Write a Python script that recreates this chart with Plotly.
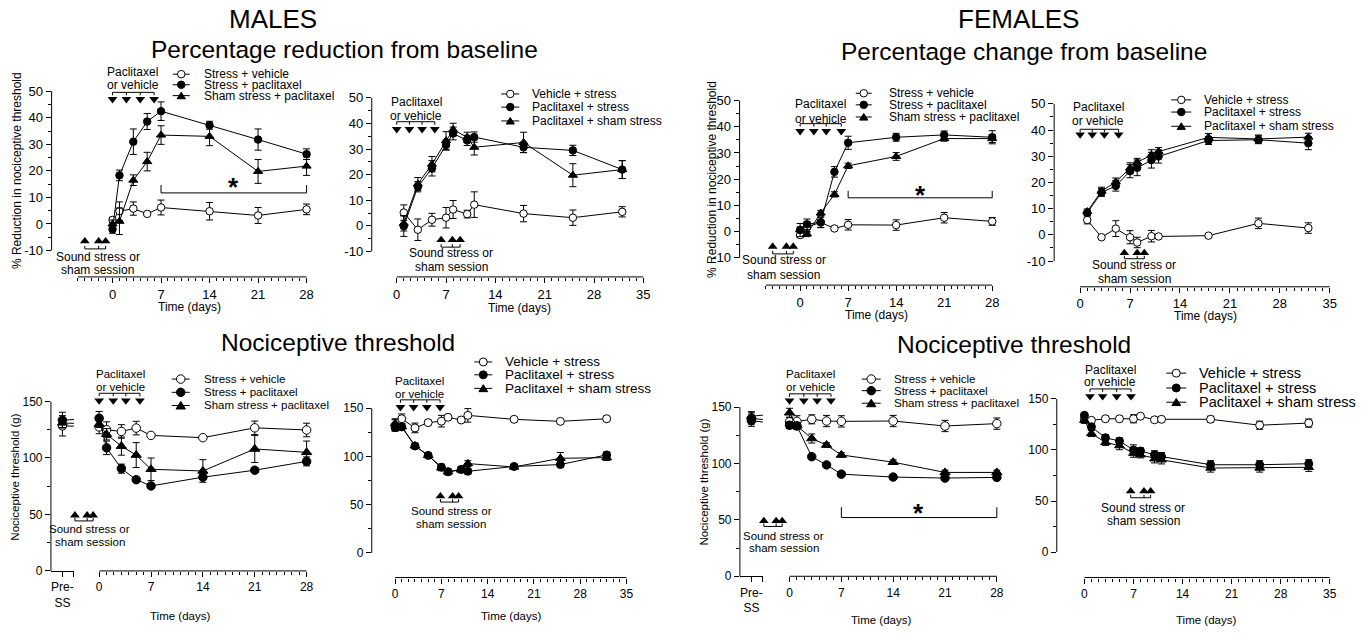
import plotly.graph_objects as go

W, H = 1368, 635
FONT = "Liberation Sans, Arial, Helvetica, sans-serif"
INK = "#000000"

LABELS_A = ["Stress + vehicle", "Stress + paclitaxel", "Sham stress + paclitaxel"]
LABELS_B = ["Vehicle + stress", "Paclitaxel + stress", "Paclitaxel + sham stress"]

# ================= DATA =================
# --- Males: % reduction from baseline (stress before drug)
M_RED_DAYS = [0, 1, 3, 5, 7, 14, 21, 28]
M_RED_SV = [1.5, 4.8, 5.8, 3.8, 6.2, 4.8, 3.2, 5.5]
M_RED_SV_ERR = [1.0, 3.5, 2.5, 0.6, 2.8, 3.3, 3.0, 2.0]
M_RED_SP = [-2.0, 18.3, 31.0, 38.6, 42.5, 37.2, 31.8, 26.3]
M_RED_SP_ERR = [1.5, 2.0, 4.8, 3.0, 3.5, 1.5, 4.0, 2.0]
M_RED_SHP = [0.0, 1.0, 16.5, 23.5, 33.5, 33.0, 19.8, 21.8]
M_RED_SHP_ERR = [1.5, 5.0, 2.0, 3.5, 3.5, 3.5, 4.5, 3.5]

# --- Males: % reduction from baseline (drug before stress)
M_RED2_DAYS = [1, 3, 5, 7, 8, 10, 11, 18, 25, 32]
M_RED2_VS = [5.2, -1.5, 2.4, 3.2, 6.4, 4.6, 8.3, 4.8, 3.2, 5.5]
M_RED2_VS_ERR = [3.0, 4.2, 2.5, 4.0, 3.5, 1.5, 5.0, 3.2, 3.0, 2.0]
M_RED2_PS = [-0.1, 15.3, 22.5, 31.6, 36.1, 33.4, 34.7, 30.7, 29.5, 22.0]
M_RED2_PS_ERR = [4.0, 2.0, 3.0, 2.0, 2.5, 2.0, 2.0, 2.0, 2.0, 3.5]
M_RED2_PSH = [1.0, 16.4, 24.1, 33.3, 37.6, 34.6, 30.7, 32.6, 19.8, 22.0]
M_RED2_PSH_ERR = [3.0, 2.5, 3.0, 3.5, 2.5, 2.0, 3.0, 4.0, 4.5, 3.5]

# --- Females: % change from baseline (stress before drug)
F_RED_DAYS = [0, 1, 3, 5, 7, 14, 21, 28]
F_RED_SV = [-1.3, 1.8, 3.5, 1.2, 2.6, 2.5, 5.3, 3.9]
F_RED_SV_ERR = [1.0, 2.0, 2.0, 0.5, 2.0, 2.0, 2.0, 1.5]
F_RED_SP = [0.6, 2.8, 3.6, 22.8, 33.9, 36.0, 36.9, 36.0]
F_RED_SP_ERR = [2.5, 2.0, 2.0, 2.0, 2.5, 1.5, 1.5, 2.5]
F_RED_SHP = [0.8, -0.9, 7.1, 14.2, 25.1, 28.7, 35.5, 35.5]
F_RED_SHP_ERR = [1.0, 1.0, 1.0, 1.0, 1.0, 1.5, 1.0, 1.5]

# --- Females: % change from baseline (drug before stress)
F_RED2_DAYS = [1, 3, 5, 7, 8, 10, 11, 18, 25, 32]
F_RED2_VS = [5.7, -0.9, 2.4, -0.9, -2.9, -0.5, -0.6, -0.3, 4.4, 2.6]
F_RED2_VS_ERR = [1.5, 0.5, 3.0, 2.5, 2.0, 2.2, 0.5, 0.5, 2.0, 2.0]
F_RED2_PS = [8.4, 16.2, 18.7, 24.3, 25.6, 28.5, 29.9, 36.0, 36.3, 35.0]
F_RED2_PS_ERR = [1.0, 1.5, 2.0, 2.5, 3.0, 3.0, 2.5, 1.5, 1.5, 2.5]
F_RED2_PSH = [8.9, 16.7, 20.2, 25.5, 27.7, 30.5, 31.8, 37.2, 36.6, 37.3]
F_RED2_PSH_ERR = [1.0, 1.5, 1.5, 2.0, 1.5, 2.0, 1.5, 1.5, 1.5, 1.5]

# --- Males: nociceptive threshold (g) (stress before drug)
M_THR_PRE = [128.5, 133.5, 131.0]
M_THR_PRE_ERR = [9.0, 7.0, 4.0]
M_THR_DAYS = [0, 1, 3, 5, 7, 14, 21, 28]
M_THR_SV = [127.5, 125.0, 123.5, 126.5, 120.0, 118.0, 126.7, 124.8]
M_THR_SV_ERR = [6.0, 7.0, 6.0, 6.0, 1.0, 1.0, 6.0, 6.0]
M_THR_SP = [135.2, 109.0, 90.6, 80.8, 75.3, 83.0, 89.2, 97.0]
M_THR_SP_ERR = [6.0, 6.0, 4.0, 2.0, 2.0, 2.0, 2.0, 4.0]
M_THR_SHP = [130.0, 121.0, 110.5, 102.6, 90.0, 88.5, 108.0, 105.0]
M_THR_SHP_ERR = [3.0, 5.0, 8.0, 11.0, 10.0, 10.0, 12.0, 10.0]

# --- Males: nociceptive threshold (g) (drug before stress)
M_THR2_DAYS = [0, 1, 3, 5, 7, 8, 10, 11, 18, 25, 32]
M_THR2_VS = [132.0, 139.0, 129.5, 135.0, 136.5, 140.5, 137.7, 142.5, 138.4, 136.3, 139.0]
M_THR2_VS_ERR = [6.0, 5.0, 5.0, 2.0, 6.0, 2.0, 2.0, 7.0, 2.0, 2.0, 2.0]
M_THR2_PS = [130.0, 130.5, 110.7, 101.0, 88.8, 84.0, 86.5, 84.5, 89.5, 91.5, 101.5]
M_THR2_PS_ERR = [3.0, 3.0, 2.0, 2.0, 3.0, 3.0, 3.0, 3.0, 2.0, 2.0, 3.0]
M_THR2_PSH = [134.0, 131.0, 111.0, 101.0, 88.0, 84.0, 86.0, 92.5, 89.0, 98.0, 98.7]
M_THR2_PSH_ERR = [5.0, 3.0, 2.0, 2.0, 3.0, 3.0, 3.0, 3.0, 2.0, 6.0, 3.0]

# --- Females: nociceptive threshold (g) (stress before drug)
F_THR_PRE = [140.0, 138.0, 142.0]
F_THR_PRE_ERR = [5.0, 5.0, 4.0]
F_THR_DAYS = [0, 1, 3, 5, 7, 14, 21, 28]
F_THR_SV = [137.0, 137.4, 139.2, 137.7, 137.4, 137.7, 133.3, 135.4]
F_THR_SV_ERR = [4.0, 5.0, 4.0, 5.0, 5.0, 5.0, 5.0, 5.0]
F_THR_SP = [134.0, 133.3, 106.1, 98.8, 90.6, 88.0, 87.1, 87.7]
F_THR_SP_ERR = [3.0, 3.0, 2.0, 2.0, 2.0, 2.0, 2.0, 2.0]
F_THR_SHP = [145.0, 133.5, 122.2, 116.4, 107.6, 101.2, 92.1, 92.1]
F_THR_SHP_ERR = [4.0, 3.0, 4.0, 2.0, 2.0, 2.0, 2.0, 2.0]

# --- Females: nociceptive threshold (g) (drug before stress)
F_THR2_DAYS = [0, 1, 3, 5, 7, 8, 10, 11, 18, 25, 32]
F_THR2_VS = [130.0, 129.0, 130.5, 130.5, 130.5, 133.0, 129.5, 130.0, 130.0, 124.2, 126.3]
F_THR2_VS_ERR = [3.0, 2.0, 2.0, 2.0, 4.0, 2.0, 2.0, 2.0, 3.0, 4.0, 4.0]
F_THR2_PS = [133.9, 122.6, 111.9, 108.7, 100.0, 99.0, 95.2, 93.5, 85.5, 85.5, 86.5]
F_THR2_PS_ERR = [2.0, 3.0, 3.0, 3.0, 5.0, 3.0, 4.0, 4.0, 4.0, 4.0, 4.0]
F_THR2_PSH = [129.0, 116.1, 107.4, 104.2, 96.8, 95.2, 91.3, 90.3, 82.3, 82.3, 83.0]
F_THR2_PSH_ERR = [3.0, 3.0, 3.0, 4.0, 4.0, 3.0, 4.0, 4.0, 4.0, 4.0, 4.0]

# Treatment / stress session marker days (annotation marks)
PAC_DAYS = {1: [0, 2, 4, 6], 2: [0, 1.8, 3.6, 5.4], 3: [0, 2, 3.8, 6], 4: [0, 1.7, 3.4, 5.4],
            5: [0, 1.9, 3.6, 5.5], 6: [0.8, 2.8, 4.8, 6.8], 7: [0, 1.93, 3.73, 5.6], 8: [0.8, 2.6, 4.6, 6.65]}
SOUND_DAYS = {1: [-4, -2, -1], 2: [6.3, 7.9, 9.0], 3: [-4, -2, -1], 4: [6.2, 8, 9],
              5: [-3.27, -1.62, -0.81], 6: [6.85, 8.7, 9.6], 7: [-3.47, -1.81, -1.0], 8: [6.6, 8.5, 9.45]}

# ================= LAYOUT GEOMETRY (pixels) =================
GEOM = {
    1: dict(ax=51.7, x0=112.7, ppd=6.94, xpy=280.0, yv=50, ypy=92.3, ppy=2.683, top=62, right=313),
    2: dict(ax=372.3, x0=397.3, ppd=7.057, xpy=280.0, yv=50, ypy=99.0, ppy=2.588, top=62, right=650),
    3: dict(ax=740.7, x0=801.3, ppd=6.87, xpy=288.3, yv=50, ypy=101.7, ppy=2.65, top=62, right=1000),
    4: dict(ax=1055.7, x0=1081.7, ppd=7.143, xpy=290.0, yv=50, ypy=105.0, ppy=2.65, top=62, right=1338),
    5: dict(ax=51.0, x0=99.3, ppd=7.42, xpy=577.3, yv=150, ypy=406.0, ppy=1.142, top=365, right=313),
    6: dict(ax=372.3, x0=395.7, ppd=6.62, xpy=584.0, yv=150, ypy=412.7, ppy=0.975, top=365, right=633),
    7: dict(ax=741.0, x0=790.7, ppd=7.414, xpy=582.7, yv=150, ypy=411.7, ppy=1.14, top=365, right=1004),
    8: dict(ax=1058.3, x0=1086.0, ppd=7.02, xpy=584.0, yv=150, ypy=403.3, ppy=1.033, top=365, right=1338),
}

fig = go.Figure()
shapes, annotations = [], []
layout = {}


def py_of(g, v):
    return g['ypy'] - (v - g['yv']) * g['ppy']


def px_of(g, d):
    return g['x0'] + d * g['ppd']


def val_of(g, py):
    return g['yv'] + (g['ypy'] - py) / g['ppy']


def day_of(g, px):
    return (px - g['x0']) / g['ppd']


def text(xp, yp, s, size=12, xanchor='center', angle=0, bold=False):
    annotations.append(dict(
        x=xp / W, y=1 - yp / H, xref='paper', yref='paper', text=(f"<b>{s}</b>" if bold else s),
        showarrow=False, xanchor=xanchor, yanchor='middle', textangle=angle,
        font=dict(family=FONT, size=size, color=INK)))


def hline_px(x0, x1, y, w=1):
    shapes.append(dict(type='line', xref='paper', yref='paper', x0=x0 / W, x1=x1 / W,
                       y0=1 - y / H, y1=1 - y / H, line=dict(color=INK, width=w)))


def vline_px(x, y0, y1, w=1):
    shapes.append(dict(type='line', xref='paper', yref='paper', x0=x / W, x1=x / W,
                       y0=1 - y0 / H, y1=1 - y1 / H, line=dict(color=INK, width=w)))


STYLES = [dict(symbol='circle', color='white'),
          dict(symbol='circle', color=INK),
          dict(symbol='triangle-up', color=INK)]


def legend(labels, rows, key, tx, size, msize):
    for lab, y, st in zip(labels, rows, STYLES):
        hline_px(key[0], key[1], y)
        cx, cy = (key[0] + key[1]) / 2, y
        r = msize / 2
        base = dict(xref='paper', yref='paper', xsizemode='pixel', ysizemode='pixel',
                    xanchor=cx / W, yanchor=1 - cy / H, line=dict(color=INK, width=1))
        if st['symbol'] == 'circle':
            shapes.append(dict(type='circle', x0=-r, x1=r, y0=-r, y1=r, fillcolor=st['color'], **base))
        else:
            t = r * 1.1
            shapes.append(dict(type='path', path=f"M{-t},{-t*0.75} L{t},{-t*0.75} L0,{t*0.85} Z",
                               fillcolor=INK, **base))
        text(tx, y, lab, size=size, xanchor='left')


def add_series(n, days, vals, errs, st, msize, xa=None):
    xa = xa or f'x{n}'
    fig.add_trace(go.Scatter(
        x=days, y=vals, mode='lines+markers', xaxis=xa, yaxis=f'y{n}',
        line=dict(color=INK, width=1),
        marker=dict(symbol=st['symbol'], size=msize + (0.5 if st['symbol'] != 'circle' else 0),
                    color=st['color'], line=dict(color=INK, width=1)),
        error_y=dict(type='data', array=errs, color=INK, thickness=1, width=3.5),
        cliponaxis=False, showlegend=False, hoverinfo='skip'))


def bracket(n, xs, yline, tick_px, direction, ends_only=False):
    g = GEOM[n]
    dy = direction * tick_px / g['ppy']
    X, Y = [xs[0], xs[-1], None], [yline, yline, None]
    for x in (xs if not ends_only else [xs[0], xs[-1]]):
        X += [x, x, None]
        Y += [yline, yline + dy, None]
    fig.add_trace(go.Scatter(x=X, y=Y, mode='lines', xaxis=f'x{n}', yaxis=f'y{n}',
                             line=dict(color=INK, width=1), showlegend=False, hoverinfo='skip'))


def tri_marks(n, xs, y, symbol):
    fig.add_trace(go.Scatter(x=xs, y=[y] * len(xs), mode='markers', xaxis=f'x{n}', yaxis=f'y{n}',
                             marker=dict(symbol=symbol, size=8.5, color=INK, line=dict(width=0)),
                             cliponaxis=False, showlegend=False, hoverinfo='skip'))


def setup_axes(n, xlim, xmaj, ylim, ymaj, ymin_ticks, tfs):
    g = GEOM[n]
    layout[f'xaxis{n}'] = dict(
        domain=[g['ax'] / W, g['right'] / W],
        range=[day_of(g, g['ax']), day_of(g, g['right'])],
        anchor=f'y{n}', showline=False, showgrid=False, zeroline=False,
        tickmode='array', tickvals=xmaj, ticktext=[str(v) for v in xmaj],
        ticks='outside', ticklen=5, tickwidth=1, tickcolor=INK,
        minor=dict(tickmode='array', tickvals=list(range(xlim[0], xlim[1] + 1)),
                   ticks='outside', ticklen=3, tickwidth=1, tickcolor=INK, showgrid=False),
        tickfont=dict(family=FONT, size=tfs, color=INK), fixedrange=True)
    layout[f'yaxis{n}'] = dict(
        domain=[1 - g['xpy'] / H, 1 - g['top'] / H],
        range=[val_of(g, g['xpy']), val_of(g, g['top'])],
        anchor=f'x{n}', showline=False, showgrid=False, zeroline=False,
        tickmode='array', tickvals=ymaj, ticktext=[str(v) for v in ymaj],
        ticks='outside', ticklen=5, tickwidth=1, tickcolor=INK,
        minor=dict(tickmode='array', tickvals=ymin_ticks, ticks='outside', ticklen=3,
                   tickwidth=1, tickcolor=INK, showgrid=False),
        tickfont=dict(family=FONT, size=tfs, color=INK), fixedrange=True)
    # axis lines
    vline_px(g['ax'], py_of(g, ylim[0]), py_of(g, ylim[1]))
    hline_px(px_of(g, xlim[0]), px_of(g, xlim[1]), g['xpy'])


def setup_pre_axis(n, pre_id, pre_end_px, tfs):
    g = GEOM[n]
    layout[f'xaxis{pre_id}'] = dict(
        domain=[g['ax'] / W, pre_end_px / W], range=[-1, 1], anchor=f'y{n}',
        showline=True, linecolor=INK, linewidth=1, showgrid=False, zeroline=False,
        tickmode='array', tickvals=[0, 1], ticktext=['Pre-<br>SS', ''],
        ticks='outside', ticklen=5, tickwidth=1, tickcolor=INK,
        tickfont=dict(family=FONT, size=tfs, color=INK), fixedrange=True)
    return (-1 + 2 * (g['x0'] - g['ax']) / (pre_end_px - g['ax']))


def add_pre(n, pre_id, pre_vals, pre_errs, day0_vals, x_day0, msize):
    for v, e, d0, st in zip(pre_vals, pre_errs, day0_vals, STYLES):
        fig.add_trace(go.Scatter(x=[0, x_day0], y=[v, d0], mode='lines', xaxis=f'x{pre_id}', yaxis=f'y{n}',
                                 line=dict(color=INK, width=1), showlegend=False, hoverinfo='skip'))
        fig.add_trace(go.Scatter(
            x=[0], y=[v], mode='markers', xaxis=f'x{pre_id}', yaxis=f'y{n}',
            marker=dict(symbol=st['symbol'], size=msize, color=st['color'], line=dict(color=INK, width=1)),
            error_y=dict(type='data', array=[e], color=INK, thickness=1, width=3.5),
            cliponaxis=False, showlegend=False, hoverinfo='skip'))


def star(n, x0, x1, yline, tick_px, xs, ys):
    bracket(n, [x0, x1], yline, tick_px, +1, ends_only=True)
    annotations.append(dict(x=xs, y=ys, xref=f'x{n}', yref=f'y{n}', text='<b>*</b>', showarrow=False,
                            xanchor='center', yanchor='middle', yshift=-7,
                            font=dict(family=FONT, size=26, color=INK)))


RED_Y = [-10, 0, 10, 20, 30, 40, 50]
RED_Y_MINOR = [-5, 5, 15, 25, 35, 45]
THR_Y = [0, 50, 100, 150]
THR_Y_MINOR = [25, 75, 125]

# ---------- Panel 1 ----------
n = 1
setup_axes(n, (-5, 28), [0, 7, 14, 21, 28], (-10, 50), RED_Y, RED_Y_MINOR, 13)
for d, v, e, st in [(M_RED_DAYS, M_RED_SV, M_RED_SV_ERR, STYLES[0]),
                    (M_RED_DAYS, M_RED_SP, M_RED_SP_ERR, STYLES[1]),
                    (M_RED_DAYS, M_RED_SHP, M_RED_SHP_ERR, STYLES[2])]:
    add_series(n, d, v, e, st, 7.5)
tri_marks(n, PAC_DAYS[n], 47.0, 'triangle-down'); bracket(n, PAC_DAYS[n], 49.6, 3, -1)
tri_marks(n, SOUND_DAYS[n], -6.5, 'triangle-up'); bracket(n, SOUND_DAYS[n], -9.4, 3, +1)
star(n, 7, 28, 11.7, 8, 17.5, 16.5)
text(133, 73, "Paclitaxel"); text(133, 86, "or vehicle")
text(98, 260, "Sound stress or"); text(98, 273, "sham session")
text(17, 172, "% Reduction in nociceptive threshold", angle=-90)
text(190, 310, "Time (days)")
legend(LABELS_A, [75, 85.7, 96.7], (173, 190), 202, 12, 7.5)

# ---------- Panel 2 ----------
n = 2
setup_axes(n, (0, 35), [0, 7, 14, 21, 28, 35], (-10, 50), RED_Y, RED_Y_MINOR, 13)
for d, v, e, st in [(M_RED2_DAYS, M_RED2_VS, M_RED2_VS_ERR, STYLES[0]),
                    (M_RED2_DAYS, M_RED2_PS, M_RED2_PS_ERR, STYLES[1]),
                    (M_RED2_DAYS, M_RED2_PSH, M_RED2_PSH_ERR, STYLES[2])]:
    add_series(n, d, v, e, st, 7.5)
tri_marks(n, PAC_DAYS[n], 37.8, 'triangle-down'); bracket(n, PAC_DAYS[n], 40.7, 3, -1)
tri_marks(n, SOUND_DAYS[n], -5.5, 'triangle-up'); bracket(n, SOUND_DAYS[n], -8.3, 3, +1)
text(417, 103.5, "Paclitaxel"); text(417, 117.5, "or vehicle")
text(452, 256, "Sound stress or"); text(452, 270, "sham session")
text(520, 311, "Time (days)")
legend(LABELS_B, [95, 108.3, 122.3], (502, 520), 531, 12, 7.5)

# ---------- Panel 3 ----------
n = 3
setup_axes(n, (-5, 28), [0, 7, 14, 21, 28], (-10, 50), RED_Y, RED_Y_MINOR, 13)
for d, v, e, st in [(F_RED_DAYS, F_RED_SV, F_RED_SV_ERR, STYLES[0]),
                    (F_RED_DAYS, F_RED_SP, F_RED_SP_ERR, STYLES[1]),
                    (F_RED_DAYS, F_RED_SHP, F_RED_SHP_ERR, STYLES[2])]:
    add_series(n, d, v, e, st, 7.5)
tri_marks(n, PAC_DAYS[n], 38.3, 'triangle-down'); bracket(n, PAC_DAYS[n], 41.2, 3, -1)
tri_marks(n, SOUND_DAYS[n], -5.7, 'triangle-up'); bracket(n, SOUND_DAYS[n], -8.5, 3, +1)
star(n, 7, 28, 12.9, 7, 17.5, 16.7)
text(822, 105, "Paclitaxel"); text(822, 120, "or vehicle")
text(785, 263.3, "Sound stress or"); text(785, 278.3, "sham session")
text(713, 181, "% Reduction in nociceptive threshold", angle=-90)
text(878, 318.5, "Time (days)")
legend(LABELS_A, [94.3, 106, 118.3], (857, 873), 888, 12, 7.5)

# ---------- Panel 4 ----------
n = 4
setup_axes(n, (0, 35), [0, 7, 14, 21, 28, 35], (-10, 50), RED_Y, RED_Y_MINOR, 13)
for d, v, e, st in [(F_RED2_DAYS, F_RED2_VS, F_RED2_VS_ERR, STYLES[0]),
                    (F_RED2_DAYS, F_RED2_PS, F_RED2_PS_ERR, STYLES[1]),
                    (F_RED2_DAYS, F_RED2_PSH, F_RED2_PSH_ERR, STYLES[2])]:
    add_series(n, d, v, e, st, 7.5)
tri_marks(n, PAC_DAYS[n], 38.3, 'triangle-down'); bracket(n, PAC_DAYS[n], 40.3, 3, -1)
tri_marks(n, SOUND_DAYS[n], -6.9, 'triangle-up'); bracket(n, SOUND_DAYS[n], -9.1, 3, +1)
text(1100, 108.3, "Paclitaxel"); text(1100, 122.7, "or vehicle")
text(1136, 268.3, "Sound stress or"); text(1136, 281.7, "sham session")
text(1207, 319.5, "Time (days)")
legend(LABELS_B, [101, 113.3, 127.7], (1173, 1193), 1204, 12, 7.5)

# ---------- Panel 5 ----------
n = 5
setup_axes(n, (0, 28), [0, 7, 14, 21, 28], (0, 150), THR_Y, THR_Y_MINOR, 12)
xd0 = setup_pre_axis(n, 9, 74.0, 12)
add_pre(n, 9, M_THR_PRE, M_THR_PRE_ERR, [M_THR_SV[0], M_THR_SP[0], M_THR_SHP[0]], xd0, 8.5)
for d, v, e, st in [(M_THR_DAYS, M_THR_SV, M_THR_SV_ERR, STYLES[0]),
                    (M_THR_DAYS, M_THR_SP, M_THR_SP_ERR, STYLES[1]),
                    (M_THR_DAYS, M_THR_SHP, M_THR_SHP_ERR, STYLES[2])]:
    add_series(n, d, v, e, st, 8.5)
tri_marks(n, PAC_DAYS[n], 150.9, 'triangle-down'); bracket(n, PAC_DAYS[n], 157.3, 3, -1)
tri_marks(n, SOUND_DAYS[n], 49.3, 'triangle-up'); bracket(n, SOUND_DAYS[n], 44.3, 3, +1)
text(121, 378.3, "Paclitaxel", 11.5); text(121, 391.7, "or vehicle", 11.5)
text(90, 535, "Sound stress or", 11.5); text(90, 548.3, "sham session", 11.5)
text(15, 482, "Nociceptive threshold (g)", 11.5, angle=-90)
text(180, 623.3, "Time (days)", 11.5)
legend(LABELS_A, [383.3, 396.7, 410], (172, 190), 202, 11.5, 8.5)

# ---------- Panel 6 ----------
n = 6
setup_axes(n, (0, 35), [0, 7, 14, 21, 28, 35], (0, 150), THR_Y, THR_Y_MINOR, 12)
for d, v, e, st in [(M_THR2_DAYS, M_THR2_VS, M_THR2_VS_ERR, STYLES[0]),
                    (M_THR2_DAYS, M_THR2_PS, M_THR2_PS_ERR, STYLES[1]),
                    (M_THR2_DAYS, M_THR2_PSH, M_THR2_PSH_ERR, STYLES[2])]:
    add_series(n, d, v, e, st, 8)
tri_marks(n, PAC_DAYS[n], 151.0, 'triangle-down'); bracket(n, PAC_DAYS[n], 158.6, 3, -1)
tri_marks(n, SOUND_DAYS[n], 58.7, 'triangle-up'); bracket(n, SOUND_DAYS[n], 52.6, 3, +1)
text(420, 385, "Paclitaxel", 11.5); text(420, 398.3, "or vehicle", 11.5)
text(452, 516.7, "Sound stress or", 11.5); text(452, 530, "sham session", 11.5)
text(512, 623.3, "Time (days)", 11.5)
legend(LABELS_B, [366, 379, 392.7], (475, 493), 503.3, 13.5, 8)

# ---------- Panel 7 ----------
n = 7
setup_axes(n, (0, 28), [0, 7, 14, 21, 28], (0, 150), THR_Y, THR_Y_MINOR, 12)
xd0 = setup_pre_axis(n, 10, 764.0, 12)
add_pre(n, 10, F_THR_PRE, F_THR_PRE_ERR, [F_THR_SV[0], F_THR_SP[0], F_THR_SHP[0]], xd0, 8.5)
for d, v, e, st in [(F_THR_DAYS, F_THR_SV, F_THR_SV_ERR, STYLES[0]),
                    (F_THR_DAYS, F_THR_SP, F_THR_SP_ERR, STYLES[1]),
                    (F_THR_DAYS, F_THR_SHP, F_THR_SHP_ERR, STYLES[2])]:
    add_series(n, d, v, e, st, 8.5)
tri_marks(n, PAC_DAYS[n], 155.9, 'triangle-down'); bracket(n, PAC_DAYS[n], 161.8, 3, -1)
tri_marks(n, SOUND_DAYS[n], 49.1, 'triangle-up'); bracket(n, SOUND_DAYS[n], 44.2, 3, +1)
star(n, 7, 28, 52.1, 10.5, 17.4, 62.3)
text(812, 378.3, "Paclitaxel", 11.5); text(812, 391.7, "or vehicle", 11.5)
text(785, 541.7, "Sound stress or", 11.5); text(785, 554, "sham session", 11.5)
text(705, 487, "Nociceptive threshold (g)", 11.5, angle=-90)
text(882, 626.7, "Time (days)", 11.5)
legend(LABELS_A, [383.3, 395, 407.7], (863, 882), 893, 11.5, 8.5)

# ---------- Panel 8 ----------
n = 8
setup_axes(n, (0, 35), [0, 7, 14, 21, 28, 35], (0, 150), THR_Y, THR_Y_MINOR, 12)
for d, v, e, st in [(F_THR2_DAYS, F_THR2_VS, F_THR2_VS_ERR, STYLES[0]),
                    (F_THR2_DAYS, F_THR2_PS, F_THR2_PS_ERR, STYLES[1]),
                    (F_THR2_DAYS, F_THR2_PSH, F_THR2_PSH_ERR, STYLES[2])]:
    add_series(n, d, v, e, st, 8)
tri_marks(n, PAC_DAYS[n], 152.5, 'triangle-down'); bracket(n, PAC_DAYS[n], 159.7, 3, -1)
tri_marks(n, SOUND_DAYS[n], 59.6, 'triangle-up'); bracket(n, SOUND_DAYS[n], 53.2, 3, +1)
text(1112, 374, "Paclitaxel", 12); text(1112, 386.7, "or vehicle", 12)
text(1145, 513.3, "Sound stress or", 12); text(1145, 526.7, "sham session", 12)
text(1208, 626.7, "Time (days)", 11.5)
legend(LABELS_B, [377.3, 392.3, 406.7], (1168, 1188), 1199, 14.5, 8)

# ---------- Titles ----------
text(273, 19, "MALES", 26)
text(345, 50, "Percentage reduction from baseline", 24.5)
text(1020, 19, "FEMALES", 26)
text(1025, 52, "Percentage change from baseline", 24.5)
text(338, 346, "Nociceptive threshold", 24.5)
text(1015, 348, "Nociceptive threshold", 24.5)

fig.update_layout(
    width=W, height=H, margin=dict(l=0, r=0, t=0, b=0, pad=0),
    paper_bgcolor='white', plot_bgcolor='rgba(0,0,0,0)',
    showlegend=False, shapes=shapes, annotations=annotations,
    font=dict(family=FONT, color=INK), **layout)

fig.write_html("out.html", config={"displayModeBar": False, "staticPlot": True},
               post_script="document.body.style.margin='0px';document.body.style.overflow='hidden';")
